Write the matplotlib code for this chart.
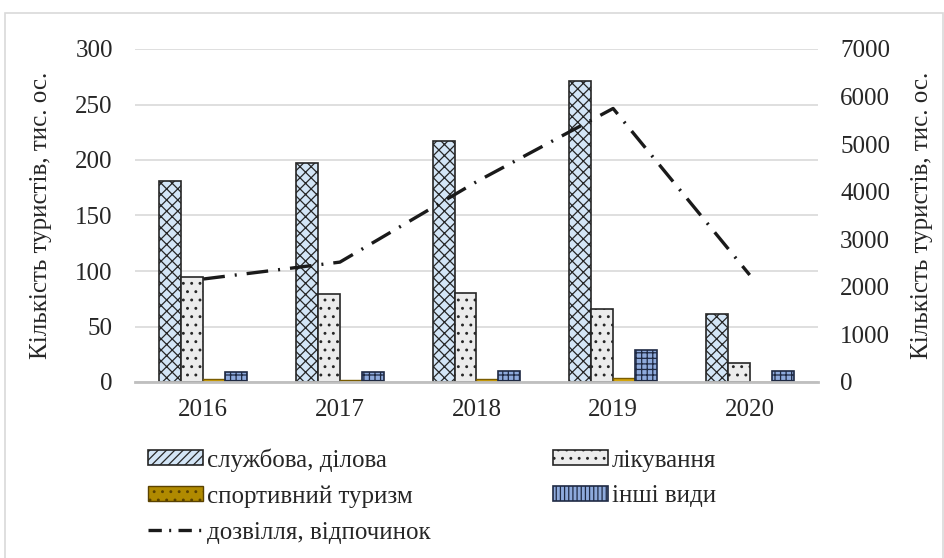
import glob
import numpy as np
import matplotlib.pyplot as plt
from matplotlib import font_manager
from matplotlib.patches import Rectangle
from matplotlib.lines import Line2D

# data
years = ['2016', '2017', '2018', '2019', '2020']
business = [181, 197, 217, 271, 61]          # службова, ділова
treatment = [95, 79, 80, 65.5, 17.5]         # лікування
sport = [3, 2, 3, 3.5, 0.3]                  # спортивний туризм
other = [9, 9, 10, 28.5, 9.5]                # інші види
leisure = [2165, 2520, 4210, 5750, 2250]     # дозвілля, відпочинок (права вісь)

# make sure the serif face is registered
for f in glob.glob('/usr/share/fonts/**/LiberationSerif*.ttf', recursive=True):
    font_manager.fontManager.addfont(f)
plt.rcParams['font.family'] = ['Liberation Serif', 'DejaVu Serif']
plt.rcParams['hatch.linewidth'] = 0.9

fig = plt.figure(figsize=(9.44, 5.58), dpi=100)
ax = fig.add_axes([135 / 944, 1 - 382 / 558, 683 / 944, 333 / 558])
ax2 = ax.twinx()

x = np.arange(len(years))
w = 0.161
edge = '#262626'
ax.bar(x - 1.5 * w, business, w, color='#d3e5f6', edgecolor=edge, hatch='xxx', lw=1.2, zorder=3)
ax.bar(x - 0.5 * w, treatment, w, color='#ececec', edgecolor=edge, hatch='..', lw=1.2, zorder=3)
ax.bar(x + 0.5 * w, sport, w, color='#d4a50c', edgecolor='#7a5c00', hatch='..', lw=1.0, zorder=3)
ax.bar(x + 1.5 * w, other, w, color='#8eaadc', edgecolor='#1f2a44', hatch='+++', lw=1.2, zorder=3)

ls = (0, (6.5, 3.0, 0.6, 3.0))
ax2.plot(x, leisure, color='#1a1a1a', lw=2.4, linestyle=ls, zorder=4)

ax.set_xlim(-0.5, 4.5)
ax.set_ylim(0, 300)
ax2.set_ylim(0, 7000)
ax.set_yticks(range(0, 301, 50))
ax2.set_yticks(range(0, 7001, 1000))
ax.set_xticks(x)
ax.set_xticklabels(years)

ax.grid(axis='y', color='#d9d9d9', lw=1.2, zorder=0)
for a in (ax, ax2):
    for s in a.spines.values():
        s.set_visible(False)
    a.tick_params(length=0, labelsize=18, colors='#262626')
ax.spines['bottom'].set_visible(True)
ax.spines['bottom'].set_color('#bfbfbf')
ax.spines['bottom'].set_linewidth(2)
ax.spines['bottom'].set_zorder(5)
ax.tick_params(axis='y', pad=16)
ax2.tick_params(axis='y', pad=16)
ax.tick_params(axis='x', pad=12)

ax.set_ylabel('Кількість туристів, тис. ос.', fontsize=18, color='#262626')
ax2.set_ylabel('Кількість туристів, тис. ос.', fontsize=18, color='#262626')
ax.yaxis.set_label_coords(-83 / 683, 0.5)
ax2.yaxis.set_label_coords(1 + 93 / 683, 0.5)

# legend, column order gives the layout of the reference
h_bus = Rectangle((0, 0), 1, 1, facecolor='#d3e5f6', edgecolor=edge, hatch='////', lw=1.2)
h_tr = Rectangle((0, 0), 1, 1, facecolor='#ececec', edgecolor=edge, hatch='..', lw=1.2)
h_sp = Rectangle((0, 0), 1, 1, facecolor='#b08a00', edgecolor='#5a4200', hatch='..', lw=1.0)
h_ot = Rectangle((0, 0), 1, 1, facecolor='#8eaadc', edgecolor='#1f2a44', hatch='||||', lw=1.2)
h_le = Line2D([], [], color='#1a1a1a', lw=2.4, linestyle=(0, (4, 2.2, 0.6, 2.2)))
fig.legend([h_bus, h_sp, h_le, h_tr, h_ot],
           ['службова, ділова', 'спортивний туризм', 'дозвілля, відпочинок', 'лікування', 'інші види'],
           ncol=2, loc='upper left', bbox_to_anchor=(148 / 944, 1 - 448 / 558),
           frameon=False, fontsize=18, handlelength=2.2, handleheight=0.55,
           handletextpad=0.15, columnspacing=4.9, labelspacing=0.55,
           borderpad=0, borderaxespad=0, labelcolor='#262626')

fig.patches.append(Rectangle((5 / 944, -0.01), 1 - 6 / 944, 1 - 13 / 558 + 0.01,
                             transform=fig.transFigure, fill=False,
                             edgecolor='#d9d9d9', lw=1.2))

fig.savefig('out.png', dpi=100)
